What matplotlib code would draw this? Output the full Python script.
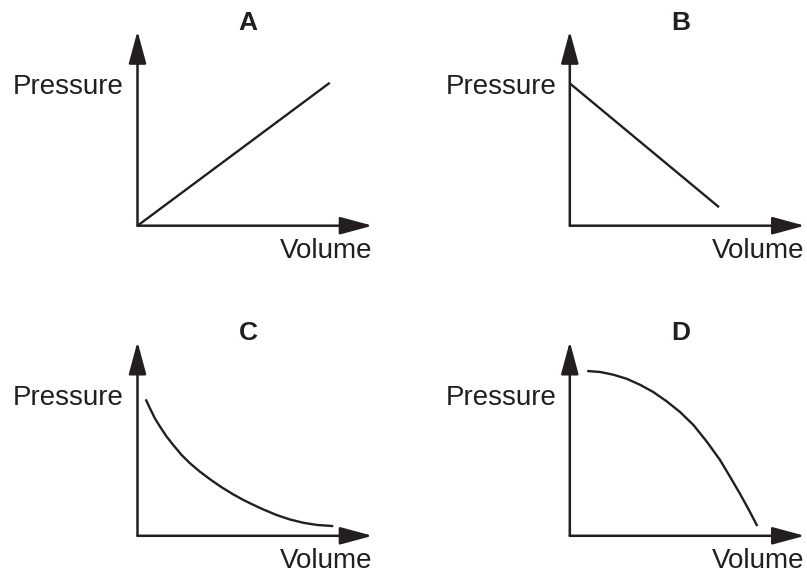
import matplotlib
matplotlib.use("Agg")
import matplotlib.pyplot as plt

W, H = 807, 574
INK = "#231f20"

# ---- data (arbitrary units, axes run 0..10) ----
panel_titles = ["A", "B", "C", "D"]
y_label = "Pressure"
x_label = "Volume"

vol_a = [0.0, 8.18]
pres_a = [0.0, 7.34]

vol_b = [0.0, 6.35]
pres_b = [7.31, 0.95]

vol_c = [0.35, 0.53, 0.74, 0.96, 1.24, 1.52, 1.88, 2.23, 2.66, 3.09, 3.58,
         4.08, 4.50, 4.85, 5.35, 5.92, 6.49, 7.06, 7.63, 8.33]
pres_c = [7.03, 6.57, 6.05, 5.62, 5.11, 4.68, 4.16, 3.74, 3.30, 2.91, 2.50,
          2.13, 1.85, 1.64, 1.36, 1.07, 0.84, 0.67, 0.56, 0.50]

vol_d = [0.74, 1.29, 1.85, 2.42, 2.99, 3.55, 4.12, 4.69, 5.26, 5.83, 6.39,
         6.82, 7.24, 7.60, 7.98]
pres_d = [8.49, 8.44, 8.30, 8.09, 7.78, 7.41, 6.93, 6.38, 5.71, 4.85, 3.91,
          3.04, 2.17, 1.38, 0.50]

series = [(vol_a, pres_a), (vol_b, pres_b), (vol_c, pres_c), (vol_d, pres_d)]

# ---- layout (pixels) ----
# origin x, origin y, axis length x, axis length y
boxes = [(137.5, 225.7, 235.0, 194.7),
         (569.8, 225.7, 235.0, 194.7),
         (137.5, 535.8, 235.0, 194.1),
         (569.8, 535.8, 235.0, 194.1)]
title_pos = [(248, 29.5), (680.5, 30), (248.3, 340), (680.5, 340)]
ylab_pos = [(124, 94), (557, 94), (124, 405.3), (557, 405.3)]
xlab_pos = [(372.7, 258.3), (804.7, 258.3), (372.7, 567.5), (804.7, 567.5)]

plt.rcParams['font.family'] = ['Liberation Sans', 'DejaVu Sans']

fig = plt.figure(figsize=(W / 100, H / 100), dpi=100)
fig.patch.set_facecolor("white")


def fx(x):
    return x / W


def fy(y):
    return 1 - y / H


for i, ((ox, oy, lx, ly), (xs, ys)) in enumerate(zip(boxes, series)):
    ax = fig.add_axes([fx(ox), fy(oy), lx / W, ly / H])
    ax.set_xlim(0, 10)
    ax.set_ylim(0, 10)
    ax.axis("off")
    ax.plot(xs, ys, color=INK, lw=1.7, solid_capstyle="butt",
            solid_joinstyle="round", clip_on=False)
    arrow = dict(arrowstyle="-|>,head_length=1.0,head_width=0.27",
                 mutation_scale=20, color=INK, lw=1.8,
                 shrinkA=0, shrinkB=0)
    ax.annotate("", xy=(1, 0), xycoords="axes fraction",
                xytext=(0, 0), textcoords="axes fraction", arrowprops=arrow,
                annotation_clip=False)
    ax.annotate("", xy=(0, 1), xycoords="axes fraction",
                xytext=(0, 0), textcoords="axes fraction", arrowprops=arrow,
                annotation_clip=False)

    tx, ty = title_pos[i]
    fig.text(fx(tx), fy(ty), panel_titles[i], ha="center", va="baseline",
             fontsize=19, fontweight="bold", color=INK)
    px_, py_ = ylab_pos[i]
    fig.text(fx(px_), fy(py_), y_label, ha="right", va="baseline",
             fontsize=20, color=INK)
    vx, vy = xlab_pos[i]
    fig.text(fx(vx), fy(vy), x_label, ha="right", va="baseline",
             fontsize=20, color=INK)

fig.savefig("out.png", dpi=100)
